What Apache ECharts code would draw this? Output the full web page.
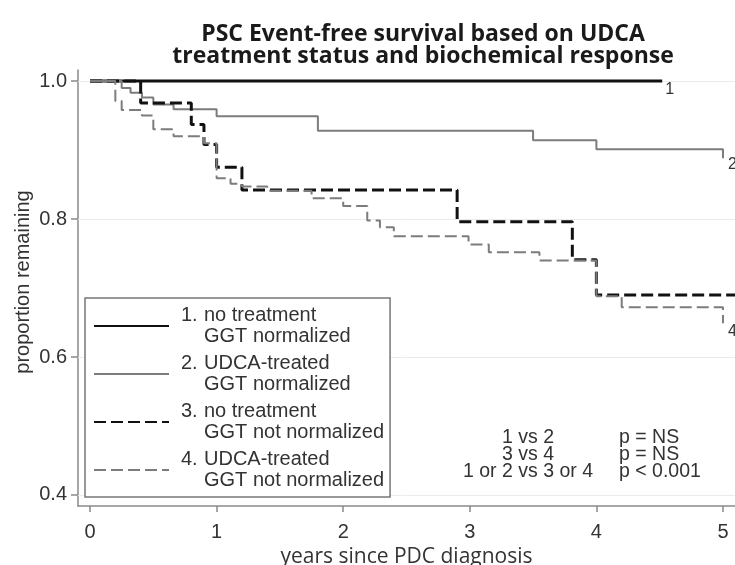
<!DOCTYPE html>
<html>
<head>
<meta charset="utf-8">
<script src="https://cdn.jsdelivr.net/npm/echarts@6/dist/echarts.min.js"></script>
<style>
  html, body { margin: 0; padding: 0; background: #fff; }
  #chart { width: 735px; height: 565px; }
</style>
</head>
<body>
<div id="chart"></div>
<script>
// Kaplan-Meier step estimates: years since diagnosis and proportion remaining
const g1Time = [0, 4.52];
const g1Surv = [1.0, 1.0];

const g2Time = [0, 0.25, 0.32, 0.41, 0.50, 0.66, 1.00, 1.80, 3.50, 4.00, 5.00];
const g2Surv = [1.0, 0.990, 0.983, 0.976, 0.966, 0.959, 0.949, 0.928, 0.914, 0.901, 0.888];

const g3Time = [0, 0.40, 0.80, 0.90, 1.00, 1.20, 2.90, 3.81, 4.00, 5.095];
const g3Surv = [1.0, 0.968, 0.937, 0.908, 0.875, 0.842, 0.796, 0.741, 0.690, 0.690];

const g4Time = [0, 0.20, 0.25, 0.41, 0.50, 0.66, 0.90, 1.00, 1.11, 1.20, 1.40, 1.75, 2.00, 2.19, 2.29, 2.40, 2.99, 3.15, 3.55, 4.00, 4.20, 5.00];
const g4Surv = [1.0, 0.971, 0.958, 0.950, 0.930, 0.920, 0.910, 0.859, 0.851, 0.847, 0.841, 0.830, 0.819, 0.798, 0.788, 0.775, 0.763, 0.752, 0.740, 0.688, 0.672, 0.649];

const groupNames = [
  ['1.', 'no treatment', 'GGT normalized'],
  ['2.', 'UDCA-treated', 'GGT normalized'],
  ['3.', 'no treatment', 'GGT not normalized'],
  ['4.', 'UDCA-treated', 'GGT not normalized']
];
const curveTags = ['1', '2', '', '4'];

const xTicks = [0, 1, 2, 3, 4, 5];
const yTicks = [0.4, 0.6, 0.8, 1.0];

const comparisons = ['1 vs 2', '3 vs 4', '1 or 2 vs 3 or 4'];
const pValues = ['p = NS', 'p = NS', 'p < 0.001'];

const zip = (t, s) => t.map((v, i) => [v, s[i]]);

const ARIAL = 'Liberation Sans, Arial, sans-serif';
const SANS = 'Open Sans, Noto Sans, sans-serif';
const TXT = '#333';
const BLACK = '#111';
const GRAY = '#7c7c7c';

const styles = [
  { color: BLACK, width: 3, type: 'solid' },
  { color: GRAY, width: 2, type: 'solid' },
  { color: BLACK, width: 3, type: [12, 5] },
  { color: GRAY, width: 2, type: [12, 5] }
];
const curves = [zip(g1Time, g1Surv), zip(g2Time, g2Surv), zip(g3Time, g3Surv), zip(g4Time, g4Surv)];
const tagOffsets = [[-5, 9], [-3, 6], [0, 0], [-3, 8]];

const legendLabel = (g) => '{g|}{n|' + g[0] + '}{t|' + g[1] + '}\n{g|}{n|}{t|' + g[2] + '}';

const series = curves.map((data, i) => ({
  name: groupNames[i].join(' '),
  type: 'line',
  step: 'end',
  data: data,
  symbol: 'none',
  showSymbol: false,
  silent: true,
  color: styles[i].color,
  lineStyle: styles[i],
  endLabel: {
    show: curveTags[i] !== '',
    formatter: curveTags[i],
    offset: tagOffsets[i],
    fontSize: 16,
    fontFamily: ARIAL,
    color: TXT
  },
  z: 3 + i
}));

// faint reference lines at the labelled proportions
series[0].markLine = {
  silent: true,
  symbol: 'none',
  label: { show: false },
  lineStyle: { color: '#ebebeb', width: 1, type: 'solid' },
  data: yTicks.map(v => ({ yAxis: v })),
  z: 1
};

const chart = echarts.init(document.getElementById('chart'), null, { renderer: 'canvas' });
chart.setOption({
  animation: false,
  backgroundColor: '#fff',
  title: {
    text: 'PSC Event-free survival based on UDCA\ntreatment status and biochemical response',
    left: 418,
    top: 18,
    textAlign: 'center',
    textStyle: { fontFamily: SANS, fontWeight: 'bold', fontSize: 23, lineHeight: 22, color: '#1a1a1a' }
  },
  grid: { left: 78, right: 0, top: 70, bottom: 59, containLabel: false, outerBoundsMode: 'none' },
  xAxis: {
    type: 'value',
    min: -0.095,
    max: 5.095,
    name: 'years since PDC diagnosis',
    nameLocation: 'middle',
    nameGap: 40,
    nameTextStyle: { fontFamily: SANS, fontSize: 21, color: TXT },
    axisLine: { show: true, onZero: false, lineStyle: { color: '#8a8a8a', width: 1.5 } },
    axisTick: { show: true, customValues: xTicks, length: 6, lineStyle: { color: '#8a8a8a', width: 1.5 } },
    axisLabel: { customValues: xTicks, margin: 16, fontFamily: ARIAL, fontSize: 20, color: TXT },
    splitLine: { show: false }
  },
  yAxis: {
    type: 'value',
    min: 0.384,
    max: 1.016,
    name: 'proportion remaining',
    nameLocation: 'middle',
    nameRotate: 90,
    nameGap: 45,
    nameMoveOverlap: false,
    nameTextStyle: { fontFamily: ARIAL, fontSize: 20, color: TXT, padding: [0, 0, 0, 12] },
    axisLine: { show: true, onZero: false, lineStyle: { color: '#8a8a8a', width: 1.5 } },
    axisTick: { show: true, customValues: yTicks, length: 7, lineStyle: { color: '#8a8a8a', width: 1.5 } },
    axisLabel: { customValues: yTicks, margin: 11, fontFamily: ARIAL, fontSize: 20, color: TXT, formatter: v => v.toFixed(1) },
    splitLine: { show: false }
  },
  legend: {
    orient: 'vertical',
    left: 85,
    top: 298,
    padding: [7, 6, 6, 8],
    itemWidth: 75,
    itemHeight: 14,
    itemGap: 6,
    backgroundColor: '#fff',
    borderColor: '#777',
    borderWidth: 1.5,
    borderRadius: 0,
    selectedMode: false,
    itemStyle: { opacity: 0 },
    data: series.map(s => s.name),
    formatter: name => legendLabel(groupNames[series.findIndex(s => s.name === name)]),
    textStyle: {
      fontFamily: ARIAL,
      fontSize: 20,
      lineHeight: 21,
      color: TXT,
      rich: {
        g: { width: 7, fontSize: 20, lineHeight: 21 },
        n: { width: 23, fontSize: 20, lineHeight: 21, fontFamily: ARIAL, color: TXT },
        t: { fontSize: 20, lineHeight: 21, fontFamily: ARIAL, color: TXT }
      }
    }
  },
  graphic: [
    {
      type: 'text',
      z: 10,
      style: {
        text: comparisons.join('\n'),
        x: 528, y: 455,
        textAlign: 'center',
        textVerticalAlign: 'middle',
        fontFamily: ARIAL, fontSize: 19.5, lineHeight: 17,
        fill: TXT
      }
    },
    {
      type: 'text',
      z: 10,
      style: {
        text: pValues.join('\n'),
        x: 619, y: 455,
        textAlign: 'left',
        textVerticalAlign: 'middle',
        fontFamily: ARIAL, fontSize: 19.5, lineHeight: 17,
        fill: TXT
      }
    }
  ],
  series: series
});
</script>
</body>
</html>
